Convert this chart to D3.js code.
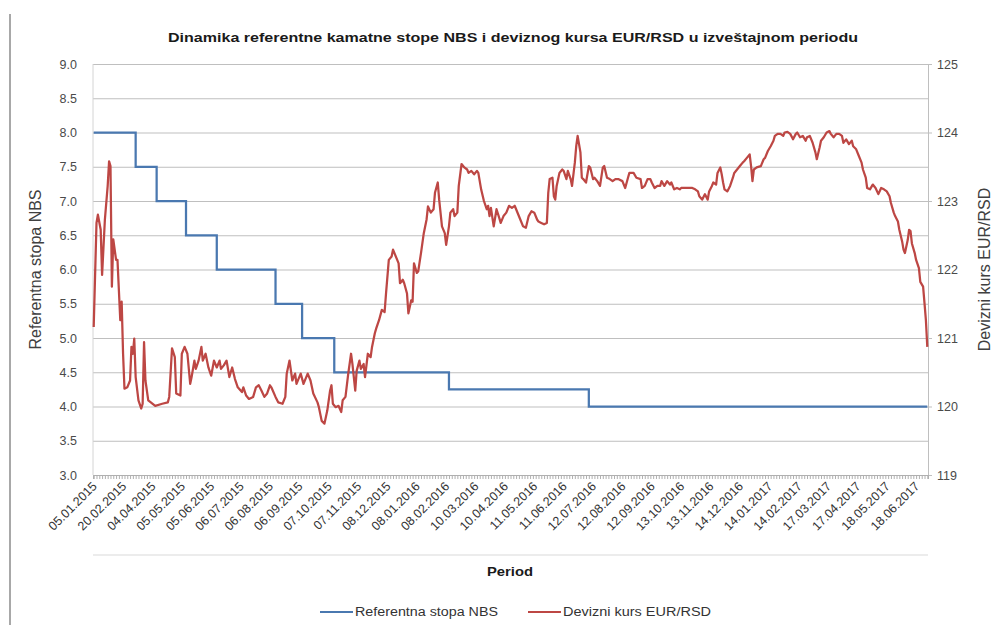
<!DOCTYPE html>
<html>
<head>
<meta charset="utf-8">
<title>Dinamika referentne kamatne stope NBS</title>
<script src="https://d3js.org/d3.v7.min.js"></script>
<style>
    html, body {
        margin: 0;
        background-color: white;
        font-family: 'Liberation Sans', Arial, sans-serif;
    }
    text {
        fill: #404040;
    }
    .grid line {
        stroke: #bfbfbf;
    }
</style>
</head>
<body>
<div id="chart"></div>
<script>

//DATA
// x axis: trading days, a label on every 21st day
let brojDana = 597
let korakDatuma = 21
let datumi = ['05.01.2015', '20.02.2015', '04.04.2015', '05.05.2015', '05.06.2015', '06.07.2015',
    '06.08.2015', '06.09.2015', '07.10.2015', '07.11.2015', '08.12.2015', '08.01.2016', '08.02.2016',
    '10.03.2016', '10.04.2016', '11.05.2016', '11.06.2016', '12.07.2016', '12.08.2016', '12.09.2016',
    '13.10.2016', '13.11.2016', '14.12.2016', '14.01.2017', '14.02.2017', '17.03.2017', '17.04.2017',
    '18.05.2017', '18.06.2017']

let stopaTicks = [3.0, 3.5, 4.0, 4.5, 5.0, 5.5, 6.0, 6.5, 7.0, 7.5, 8.0, 8.5, 9.0]
let kursTicks = [119, 120, 121, 122, 123, 124, 125]

// Referentna stopa NBS: day index where the rate changes, new rate
let stopaDan = [0, 30, 45, 66, 88, 130, 149, 172, 254, 354, 596]
let stopaVrednost = [8.0, 7.5, 7.0, 6.5, 6.0, 5.5, 5.0, 4.5, 4.25, 4.0, 4.0]

// Devizni kurs EUR/RSD: day index, rate
let kursDan = [0, 2, 3, 5, 6, 8, 10, 11, 12, 13, 14, 16, 17, 19, 20, 21, 22, 24, 26, 27, 28, 29, 30,
    32, 34, 35, 36, 37, 39, 44, 49, 53, 54, 56, 58, 59, 62, 63, 65, 67, 69, 70, 72, 73, 75, 77, 78,
    80, 82, 84, 86, 88, 90, 91, 93, 95, 97, 99, 101, 103, 106, 107, 109, 111, 114, 116, 118, 120,
    122, 124, 126, 127, 130, 132, 135, 137, 138, 140, 142, 144, 145, 148, 150, 153, 155,
    157, 160, 161, 163, 165, 167, 169, 170, 171, 173, 175, 177, 178, 180, 182, 184, 185, 187, 188,
    190, 191, 193, 194, 196, 198, 199, 201, 202, 204, 206, 208, 209, 211, 213, 214, 217, 218, 219,
    221, 222, 224, 225, 227, 228, 229, 231, 232, 234, 236, 238, 239, 241, 243, 244, 246, 247, 249,
    251, 252, 254, 255, 257, 258, 260, 261, 263, 265, 267, 268, 270, 272, 274, 275, 277, 279, 281,
    282, 283, 284, 286, 288, 290, 291, 293, 295, 297, 299, 301,
    305, 307, 309, 311, 313, 315, 317, 318, 320, 322, 324, 325, 326, 328, 329, 330, 331, 333, 335,
    336, 338, 339, 341, 342, 344, 345, 346, 348, 349, 350, 352, 354, 355, 357, 358, 360, 362, 364,
    365, 367, 369, 371, 373, 375, 378, 380, 382, 383, 386, 388, 391, 392, 394, 396, 398, 399, 401,
    403, 405, 406, 408, 410, 412, 413, 415, 417, 419, 420, 423, 425, 428, 430, 432, 433, 435, 437,
    439, 440, 442, 443, 445, 446, 448, 449,
    450, 451, 453, 455, 457, 458, 460, 462, 464, 465, 467, 469, 470, 471, 472, 474, 477, 479, 480,
    482, 484, 486, 487, 489, 491, 493, 494, 496, 498, 500, 502, 503, 505, 507, 509, 510, 512, 514,
    516, 517, 519, 520, 522, 524, 526, 527, 529, 531, 533, 535, 536, 538, 540, 542, 543, 545, 547,
    549, 550, 552, 553, 555, 557, 559, 561, 563, 565, 567, 569, 570, 572, 573, 575, 576, 578, 579,
    580, 582, 583, 584, 585, 587, 588, 590, 591, 593, 594, 595, 596]
let kursVrednost = [121.16, 122.68, 122.80, 122.58, 121.92, 122.73, 123.22, 123.58, 123.51, 121.75,
    122.44, 122.14, 122.14, 121.26, 121.53, 120.77, 120.26, 120.28, 120.38, 120.87, 120.77, 120.99,
    120.43, 120.09, 119.97, 120.04, 120.94, 120.38, 120.09, 120.01, 120.04, 120.06, 120.14, 120.85,
    120.72, 120.19, 120.16, 120.77, 120.87, 120.77, 120.33, 120.43, 120.67, 120.55, 120.67, 120.87,
    120.67, 120.77, 120.57, 120.45, 120.67, 120.57, 120.67, 120.55, 120.60, 120.67, 120.43, 120.57,
    120.40, 120.28, 120.21, 120.28, 120.16, 120.11, 120.14, 120.28, 120.31, 120.23, 120.14, 120.19,
    120.31, 120.28, 120.14, 120.06, 120.04, 120.14, 120.48, 120.67, 120.38, 120.48, 120.33, 120.48,
    120.33, 120.48, 120.38,
    120.19, 120.06, 119.99, 119.79, 119.75, 119.94, 120.23, 120.31, 120.04, 119.99, 120.01, 119.92,
    120.09, 120.14, 120.48, 120.77, 120.62, 120.23, 120.52, 120.67, 120.55, 120.62, 120.43, 120.77,
    120.72, 120.87, 121.07, 121.14, 121.26, 121.41, 121.38, 121.65, 122.14, 122.19, 122.29, 122.14,
    122.09, 121.80, 121.85, 121.80, 121.65, 121.36, 121.55, 121.53, 122.09, 121.95, 121.97, 122.24,
    122.53, 122.73, 122.92, 122.83, 122.88, 123.12, 123.27, 123.02, 122.63, 122.53, 122.36, 122.63,
    122.83, 122.88, 122.78, 122.83, 123.22, 123.54, 123.49, 123.46, 123.41, 123.44, 123.39, 123.44,
    123.41, 123.17, 123.00, 122.88, 122.93, 122.78, 122.90, 122.63, 122.88, 122.75, 122.68, 122.78,
    122.83, 122.93, 122.90, 122.93,
    122.73, 122.63, 122.61, 122.78, 122.85, 122.83, 122.73, 122.70, 122.68, 122.66, 122.68, 123.12,
    123.32, 123.34, 123.07, 123.02, 123.22, 123.41, 123.46, 123.44, 123.32, 123.44, 123.32, 123.22,
    123.56, 123.80, 123.95, 123.71, 123.34, 123.32, 123.27, 123.51, 123.49, 123.32, 123.34, 123.29,
    123.22, 123.49, 123.51, 123.34, 123.32, 123.29, 123.32, 123.32, 123.29, 123.19, 123.34, 123.41,
    123.41, 123.34, 123.32, 123.19, 123.22, 123.32, 123.32, 123.27, 123.19, 123.22, 123.22, 123.29,
    123.22, 123.29, 123.24, 123.27, 123.17, 123.19, 123.17, 123.19, 123.19, 123.19, 123.19, 123.17,
    123.14, 123.07, 123.02, 123.10, 123.02, 123.14, 123.22, 123.27, 123.24, 123.41, 123.49, 123.39,
    123.27, 123.17, 123.14, 123.22, 123.34, 123.41, 123.46, 123.51, 123.56, 123.58, 123.63, 123.68,
    123.51, 123.29, 123.46, 123.49, 123.51, 123.61, 123.63, 123.73, 123.80, 123.88, 123.95, 123.98,
    123.98, 123.95, 124.00, 124.01, 123.98, 123.90, 123.98, 124.00, 123.93, 123.95, 123.88, 123.93,
    123.95, 123.85, 123.71, 123.61, 123.78, 123.88, 123.93, 124.00, 124.02, 123.98, 123.93, 123.98,
    123.98, 123.95, 123.85, 123.90, 123.83, 123.88, 123.80, 123.76, 123.66, 123.56, 123.46, 123.34,
    123.19, 123.17, 123.24, 123.19, 123.10, 123.19, 123.17, 123.14, 123.07, 122.97, 122.83, 122.78,
    122.70, 122.58, 122.41, 122.29, 122.24, 122.43, 122.58, 122.56, 122.38, 122.24, 122.14, 122.02,
    121.82, 121.75, 121.51, 121.26, 120.87]

//LAYOUT
let width = 1000
let height = 625
let plotLeft = 93
let plotRight = 928
let plotTop = 64
let plotBottom = 475

let svg = d3.select('#chart')
    .append('svg')
    .attr('width', width)
    .attr('height', height)

let x = d3.scaleLinear().domain([-0.5, brojDana - 0.5]).range([plotLeft, plotRight])
let yStopa = d3.scaleLinear().domain([3, 9]).range([plotBottom, plotTop])
let yKurs = d3.scaleLinear().domain([119, 125]).range([plotBottom, plotTop])

// page margin rule on the left
svg.append('line')
    .attr('x1', 10).attr('x2', 10)
    .attr('y1', 14).attr('y2', height)
    .attr('stroke', '#a8a8a8')
    .attr('stroke-width', 2)

//TITLE
svg.append('text')
    .text('Dinamika referentne kamatne stope NBS i deviznog kursa EUR/RSD u izveštajnom periodu')
    .attr('x', 513)
    .attr('y', 42)
    .attr('text-anchor', 'middle')
    .attr('textLength', 690)
    .attr('lengthAdjust', 'spacingAndGlyphs')
    .style('font-size', '13px')
    .style('font-weight', 'bold')
    .style('fill', '#1a1a1a')

//AXES
let gridAxis = svg.append('g')
    .attr('class', 'grid')
    .attr('transform', 'translate(' + plotLeft + ',0)')
    .call(d3.axisLeft(yStopa)
        .tickValues(stopaTicks)
        .tickSize(-(plotRight - plotLeft))
        .tickPadding(16)
        .tickFormat(d3.format('.1f')))
gridAxis.select('.domain').remove()
gridAxis.selectAll('text')
    .style('font-size', '12.5px')
    .style('fill', '#4a4a4a')
    .attr('font-family', null)

let kursAxis = svg.append('g')
    .attr('transform', 'translate(' + plotRight + ',0)')
    .call(d3.axisRight(yKurs)
        .tickValues(kursTicks)
        .tickSize(4)
        .tickPadding(5)
        .tickFormat(d3.format('d')))
kursAxis.select('.domain').attr('stroke', '#bfbfbf')
kursAxis.selectAll('line').attr('stroke', '#bfbfbf')
kursAxis.selectAll('text')
    .style('font-size', '12.5px')
    .style('fill', '#4a4a4a')
    .attr('font-family', null)

svg.append('line')
    .attr('x1', plotLeft).attr('x2', plotLeft)
    .attr('y1', plotTop).attr('y2', plotBottom)
    .attr('stroke', '#d4d4d4')

// category axis: dense tick marks, one date label every korakDatuma days
let danAxis = svg.append('g')
    .attr('transform', 'translate(0,' + plotBottom + ')')
    .call(d3.axisBottom(x)
        .tickValues(d3.range(0, brojDana, 2))
        .tickSize(4)
        .tickFormat(''))
danAxis.select('.domain').attr('stroke', '#b0b0b0')
danAxis.selectAll('line').attr('stroke', '#b0b0b0')

svg.append('g')
    .selectAll('text')
    .data(datumi)
    .join('text')
    .text(d => d)
    .attr('text-anchor', 'end')
    .attr('transform', (d, i) => 'translate(' + (x(i * korakDatuma) + 4) + ',' + (plotBottom + 12) + ') rotate(-45)')
    .style('font-size', '12.5px')
    .style('fill', '#333')

svg.append('line')
    .attr('x1', plotLeft).attr('x2', plotRight)
    .attr('y1', 555).attr('y2', 555)
    .attr('stroke', '#d9d9d9')

//AXIS TITLES
svg.append('text')
    .text('Referentna stopa NBS')
    .attr('transform', 'translate(41,' + ((plotTop + plotBottom) / 2) + ') rotate(-90)')
    .attr('text-anchor', 'middle')
    .style('font-size', '16px')

svg.append('text')
    .text('Devizni kurs EUR/RSD')
    .attr('transform', 'translate(990,' + ((plotTop + plotBottom) / 2) + ') rotate(-90)')
    .attr('text-anchor', 'middle')
    .style('font-size', '16px')

svg.append('text')
    .text('Period')
    .attr('x', 510)
    .attr('y', 576)
    .attr('text-anchor', 'middle')
    .attr('textLength', 46)
    .attr('lengthAdjust', 'spacingAndGlyphs')
    .style('font-size', '12px')
    .style('font-weight', 'bold')
    .style('fill', '#1a1a1a')

//SERIES
let stopa = stopaDan.map((d, i) => [d, stopaVrednost[i]])
let kurs = kursDan.map((d, i) => [d, kursVrednost[i]])

svg.append('path')
    .datum(stopa)
    .attr('fill', 'none')
    .attr('stroke', '#4a78b0')
    .attr('stroke-width', 2.25)
    .attr('d', d3.line()
        .x(d => x(d[0]))
        .y(d => yStopa(d[1]))
        .curve(d3.curveStepAfter))

svg.append('path')
    .datum(kurs)
    .attr('fill', 'none')
    .attr('stroke', '#bd4744')
    .attr('stroke-width', 2.25)
    .attr('stroke-linejoin', 'round')
    .attr('d', d3.line()
        .x(d => x(d[0]))
        .y(d => yKurs(d[1])))

//LEGEND
let legenda = [
    {name: 'Referentna stopa NBS', color: '#4a78b0', x: 320, w: 143},
    {name: 'Devizni kurs EUR/RSD', color: '#bd4744', x: 528, w: 148}
]
let leg = svg.append('g')
    .selectAll('g')
    .data(legenda)
    .join('g')
    .attr('transform', d => 'translate(' + d.x + ',612)')
leg.append('line')
    .attr('x1', 0).attr('x2', 33)
    .attr('stroke', d => d.color)
    .attr('stroke-width', 2)
leg.append('text')
    .text(d => d.name)
    .attr('x', 35)
    .attr('y', 4)
    .attr('textLength', d => d.w)
    .attr('lengthAdjust', 'spacingAndGlyphs')
    .style('font-size', '12px')
    .style('fill', '#333')

</script>
</body>
</html>
